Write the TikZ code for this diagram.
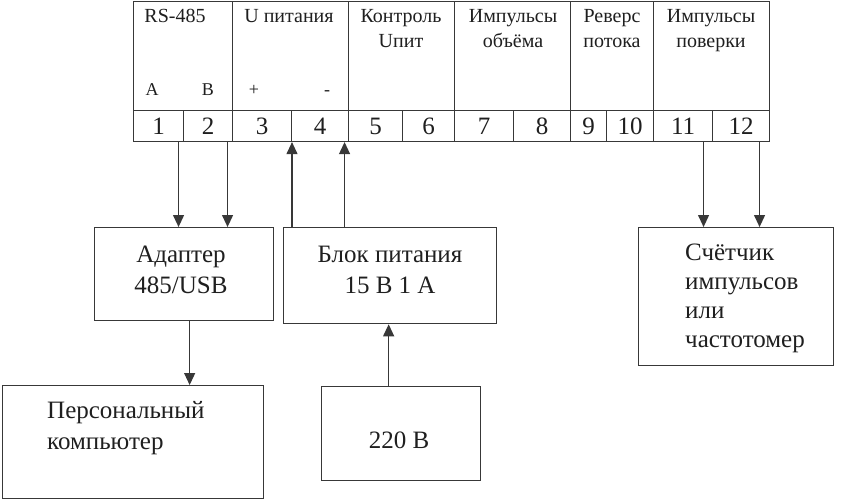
\documentclass[tikz,border=0pt]{standalone}
\usepackage{fontspec}
\setmainfont{Liberation Serif}
\usetikzlibrary{arrows.meta}
\definecolor{lc}{gray}{0.22}
\definecolor{tc}{gray}{0.12}
\begin{document}
\begin{tikzpicture}[x=1pt,y=-1pt,
  cell/.style={draw=lc, line width=1.1pt, inner sep=0pt, anchor=north west, text=tc,
    font=\fontsize{25}{30}\selectfont},
  box/.style={draw=lc, line width=1.3pt, inner sep=0pt, anchor=north west},
  hdr/.style={font=\fontsize{20}{24}\selectfont, text=tc, inner sep=0pt, anchor=base},
  sml/.style={font=\fontsize{18}{22}\selectfont, text=tc, inner sep=0pt, anchor=base},
  lbl/.style={font=\fontsize{25}{30}\selectfont, text=tc, inner sep=0pt, anchor=base},
  lbll/.style={font=\fontsize{25}{30}\selectfont, text=tc, inner sep=0pt, anchor=base west},
  arr/.style={draw=lc, line width=1.1pt, -{Triangle[length=12pt,width=11pt]}}
]
\fill[white] (0,0) rectangle (841,501);
\useasboundingbox (0,0) rectangle (841,501);

% header cells
\node[cell, minimum width=99pt,  minimum height=109.2pt] (h1) at (133,0.8) {};
\node[cell, minimum width=116pt, minimum height=109.2pt] (h2) at (232,0.8) {};
\node[cell, minimum width=106pt, minimum height=109.2pt] (h3) at (348,0.8) {};
\node[cell, minimum width=116pt, minimum height=109.2pt] (h4) at (454,0.8) {};
\node[cell, minimum width=83pt,  minimum height=109.2pt] (h5) at (570,0.8) {};
\node[cell, minimum width=116pt, minimum height=109.2pt] (h6) at (653,0.8) {};

% terminal cells
\node[cell, minimum width=50pt, minimum height=31pt] (t1)  at (133,110) {1};
\node[cell, minimum width=49pt, minimum height=31pt] (t2)  at (183,110) {2};
\node[cell, minimum width=59pt, minimum height=31pt] (t3)  at (232,110) {3};
\node[cell, minimum width=57pt, minimum height=31pt] (t4)  at (291,110) {4};
\node[cell, minimum width=54pt, minimum height=31pt] (t5)  at (348,110) {5};
\node[cell, minimum width=52pt, minimum height=31pt] (t6)  at (402,110) {6};
\node[cell, minimum width=59pt, minimum height=31pt] (t7)  at (454,110) {7};
\node[cell, minimum width=57pt, minimum height=31pt] (t8)  at (513,110) {8};
\node[cell, minimum width=36pt, minimum height=31pt] (t9)  at (570,110) {9};
\node[cell, minimum width=47pt, minimum height=31pt] (t10) at (606,110) {10};
\node[cell, minimum width=59pt, minimum height=31pt] (t11) at (653,110) {11};
\node[cell, minimum width=57pt, minimum height=31pt] (t12) at (712,110) {12};

% header texts
\node[hdr] (x1)  at (175,22) {RS-485};
\node[hdr] (x2)  at (289,22) {U питания};
\node[hdr] (x3a) at (401,22) {Контроль};
\node[hdr] (x3b) at (401,47) {Uпит};
\node[hdr] (x4a) at (513,22) {Импульсы};
\node[hdr] (x4b) at (513,47) {объёма};
\node[hdr] (x5a) at (612,22) {Реверс};
\node[hdr] (x5b) at (612,47) {потока};
\node[hdr] (x6a) at (711,22) {Импульсы};
\node[hdr] (x6b) at (711,47) {поверки};
\node[sml] (pa) at (152,95) {A};
\node[sml] (pb) at (208,95) {B};
\node[sml] (pp) at (254,95) {+};
\node[sml] (pm) at (327,95) {-};

% boxes
\node[box, minimum width=179pt, minimum height=93pt]  (adapter) at (94,227) {};
\node[box, minimum width=213pt, minimum height=96pt]  (psu)     at (283,227) {};
\node[box, minimum width=261pt, minimum height=113pt] (pc)      at (2,385) {};
\node[box, minimum width=159pt, minimum height=94pt]  (mains)   at (321,386) {};
\node[box, minimum width=195pt, minimum height=138pt] (counter) at (638,227) {};

% box texts
\node[lbl] (ad1) at (181,262) {Адаптер};
\node[lbl] (ad2) at (181,293) {485/USB};
\node[lbl] (ps1) at (390,262) {Блок питания};
\node[lbl] (ps2) at (390,293) {15 В 1 А};
\node[lbll] (pc1) at (47,418) {Персональный};
\node[lbll] (pc2) at (47,449) {компьютер};
\node[lbl] (m1) at (399,448) {220 В};
\node[lbll] (c1) at (685,260) {Счётчик};
\node[lbll] (c2) at (685,289) {импульсов};
\node[lbll] (c3) at (685,318) {или};
\node[lbll] (c4) at (685,347) {частотомер};

% connectors
\coordinate (a1) at ([xshift=20pt]t1.south);
\coordinate (a2) at ([xshift=19.5pt]t2.south);
\coordinate (a3) at ([xshift=1pt]t4.south west);
\coordinate (a4) at ([xshift=24.5pt]t4.south);
\coordinate (a11) at ([xshift=20.5pt]t11.south);
\coordinate (a12) at ([xshift=18.5pt]t12.south);
\coordinate (a5) at ([xshift=5.5pt]adapter.south);
\coordinate (a6) at ([xshift=-12.5pt]mains.north);

\draw[arr] (a1) -- (a1 |- adapter.north);
\draw[arr] (a2) -- (a2 |- adapter.north);
\draw[arr] (a3 |- psu.north) -- (a3);
\draw[arr] (a4 |- psu.north) -- (a4);
\draw[arr] (a11) -- (a11 |- counter.north);
\draw[arr] (a12) -- (a12 |- counter.north);
\draw[arr] (a5) -- (a5 |- pc.north);
\draw[arr] (a6) -- (a6 |- psu.south);
\end{tikzpicture}
\end{document}
